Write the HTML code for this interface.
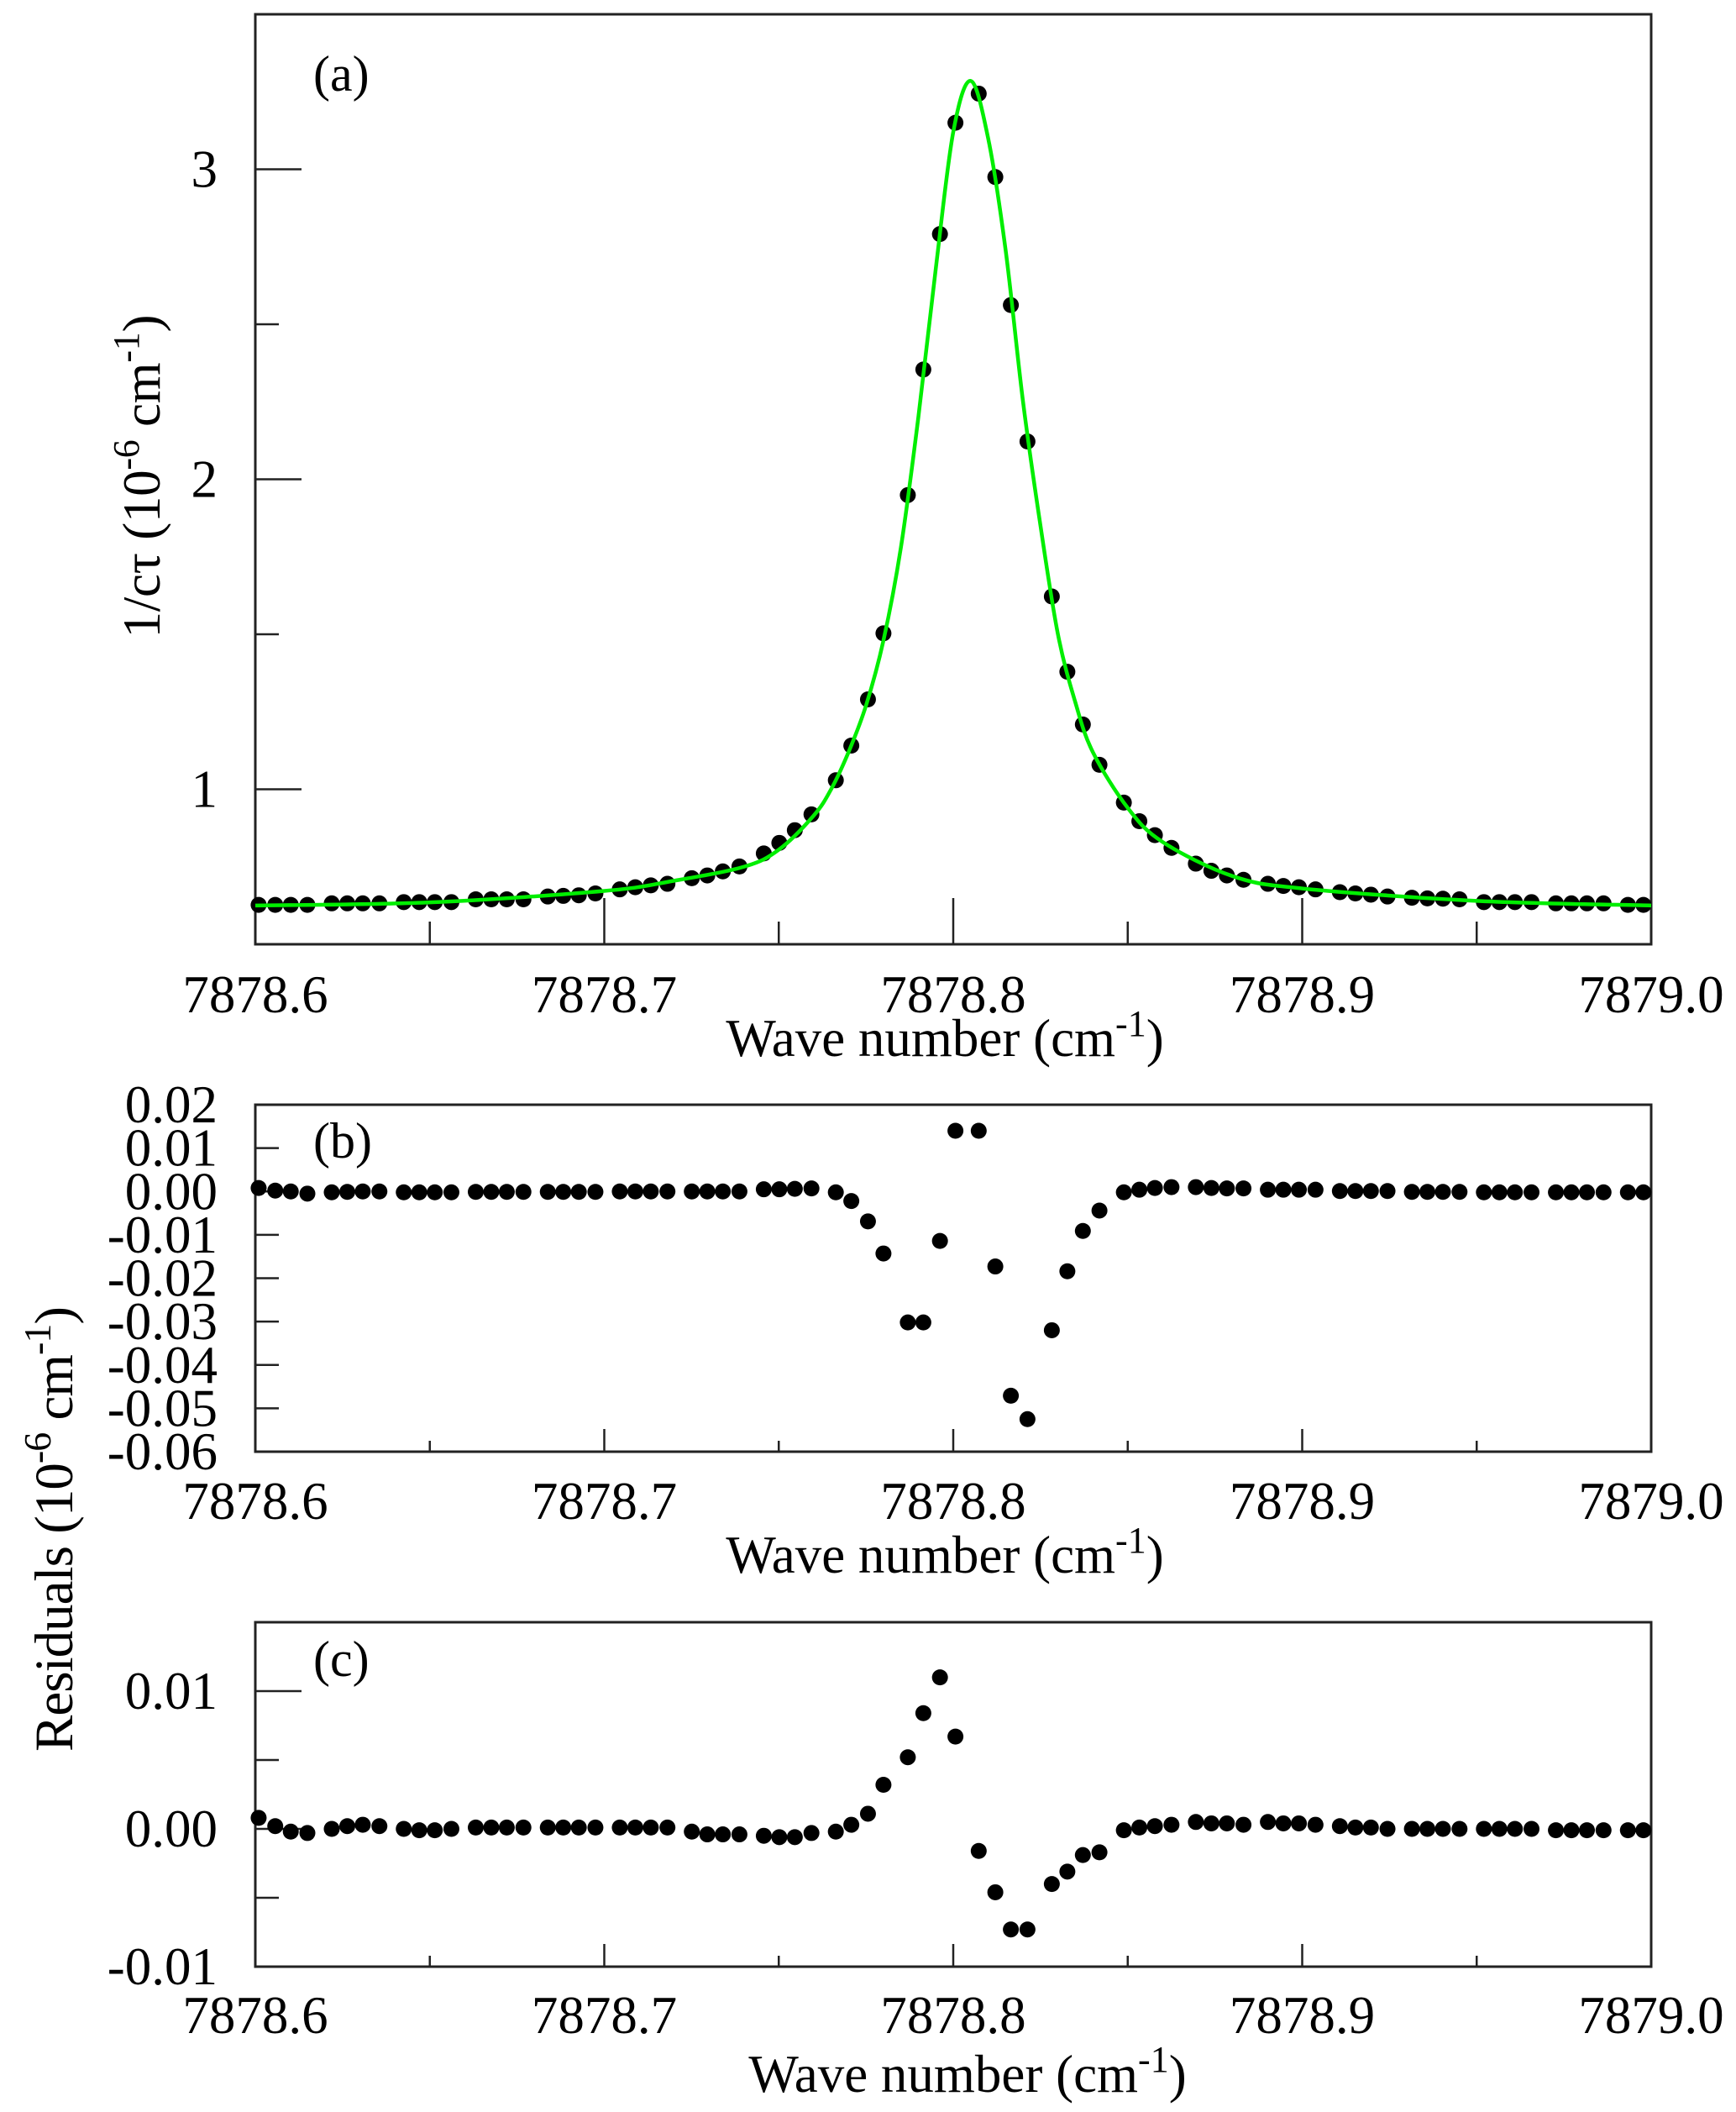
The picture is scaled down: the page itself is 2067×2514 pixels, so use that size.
<!DOCTYPE html>
<html><head><meta charset="utf-8"><style>
html,body{margin:0;padding:0;background:#fff;}
svg{display:block;font-family:"Liberation Serif","Times New Roman",serif;}
</style></head><body>
<svg id="fig" width="2067" height="2514" viewBox="0 0 2067 2514" xmlns="http://www.w3.org/2000/svg"></svg>
<script>
// ---- data ----
const xData = [.60095,.60571,.61016,.61492,.62190,.62635,.63079,.63556,.64254,.64698,.65143,.65619,.66317,.66762,.67206,.67683,.68381,.68825,.69270,.69746,.70444,.70889,.71333,.71810,.72508,.72952,.73397,.73873,.74571,.75016,.75460,.75937,.76635,.77079,.77556,.78000,.78698,.79143,.79619,.80063,.80730,.81206,.81651,.82127,.82825,.83270,.83714,.84190,.84889,.85333,.85778,.86254,.86952,.87397,.87841,.88317,.89016,.89460,.89905,.90381,.91079,.91524,.91968,.92444,.93143,.93587,.94032,.94508,.95206,.95651,.96095,.96571,.97270,.97714,.98159,.98635,.99333,.99778];
const spectrumY = [.627,.627,.627,.627,.632,.632,.632,.632,.636,.636,.636,.636,.645,.645,.645,.645,.654,.656,.658,.664,.677,.684,.690,.695,.713,.722,.735,.751,.793,.827,.868,.919,1.029,1.141,1.290,1.503,1.949,2.354,2.791,3.150,3.244,2.975,2.562,2.122,1.622,1.379,1.209,1.079,.957,.897,.852,.811,.760,.737,.722,.708,.695,.688,.684,.677,.668,.664,.660,.654,.650,.648,.647,.645,.636,.636,.636,.636,.632,.632,.632,.632,.627,.627];
const fitX = [.600,.650,.700,.720,.740,.750,.760,.765,.770,.775,.780,.785,.790,.795,.800,.805,.810,.815,.820,.825,.830,.835,.840,.850,.860,.880,.900,.950,1.000];
const fitY = [.625,.635,.672,.705,.75,.805,.915,1.00,1.12,1.27,1.48,1.78,2.20,2.68,3.12,3.285,3.10,2.74,2.25,1.85,1.50,1.28,1.12,.94,.83,.72,.68,.64,.625];
const residB = [.0008,.0002,0,-.0005,-.0002,-.0001,0,0,-.0002,-.0002,-.0002,-.0002,-.0001,-.0001,-.0001,-.0001,-.0001,-.0001,-.0001,-.0001,0,0,0,0,0,0,0,0,.0005,.0005,.0006,.0007,-.0002,-.0022,-.0069,-.0143,-.0302,-.0302,-.0114,.0140,.0140,-.0173,-.0471,-.0525,-.0320,-.0184,-.0091,-.0044,-.0002,.0004,.0008,.0010,.0010,.0008,.0007,.0007,.0004,.0004,.0004,.0004,.0001,.0001,.0001,.0001,-.0001,-.0001,-.0001,-.0001,-.0002,-.0002,-.0002,-.0002,-.0002,-.0002,-.0002,-.0002,-.0002,-.0002];
const residC = [.0008,.0002,-.0002,-.0003,0,.0002,.0003,.0002,0,-.0001,-.0001,0,.0001,.0001,.0001,.0001,.0001,.0001,.0001,.0001,.0001,.0001,.0001,.0001,-.0002,-.0004,-.0004,-.0004,-.0005,-.0006,-.0006,-.0003,-.0002,.0003,.0011,.0032,.0052,.0084,.0110,.0067,-.0016,-.0046,-.0073,-.0073,-.0040,-.0031,-.0019,-.0017,-.0001,.0001,.0002,.0003,.0005,.0004,.0004,.0003,.0005,.0004,.0004,.0003,.0002,.0001,.0001,0,0,0,0,0,0,0,0,0,-.0001,-.0001,-.0001,-.0001,-.0001,-.0001];
const xTickLabels = ["7878.6","7878.7","7878.8","7878.9","7879.0"];
const xTickValues = [.6,.7,.8,.9,1.0];
const xMinorValues = [.65,.75,.85,.95];
const aTickValues = [1,2,3];
const aTickLabels = ["1","2","3"];
const aMinorValues = [1.5,2.5];
const bTickValues = [.02,.01,0,-.01,-.02,-.03,-.04,-.05,-.06];
const bTickLabels = ["0.02","0.01","0.00","-0.01","-0.02","-0.03","-0.04","-0.05","-0.06"];
const cTickValues = [.01,0,-.01];
const cTickLabels = ["0.01","0.00","-0.01"];
const cMinorValues = [.005,-.005];

const NS="http://www.w3.org/2000/svg";
const svg=document.getElementById('fig');
function mk(tag,attrs,parent){const e=document.createElementNS(NS,tag);for(const k in attrs)e.setAttribute(k,attrs[k]);(parent||svg).appendChild(e);return e;}

const L=304,R=1966;
const panels=[
 {id:'a',top:17,bot:1124,ymin:.5,ymax:3.5,tickLab:1205,title:1257,tx:1125,tickV:aTickValues,tickL:aTickLabels,minor:aMinorValues,yMaj:55,yMin:28,xMaj:55,xMin:27,labY:108},
 {id:'b',top:1315,bot:1728,ymin:-.06,ymax:.02,tickLab:1808,title:1872,tx:1125,tickV:bTickValues,tickL:bTickLabels,minor:[],yMaj:28,yMin:28,xMaj:27,xMin:13,labY:1378},
 {id:'c',top:1931,bot:2341,ymin:-.01,ymax:.015,tickLab:2420,title:2490,tx:1152,tickV:cTickValues,tickL:cTickLabels,minor:cMinorValues,yMaj:55,yMin:28,xMaj:27,xMin:13,labY:1995}
];
panels.forEach(p=>{
 const g=mk('g',{});
 
 
 const X=v=>L+(v-.6)/.4*(R-L);
 const Y=v=>p.bot-(v-p.ymin)/(p.ymax-p.ymin)*(p.bot-p.top);
 p.X=X;p.Y=Y;p.g=g;
 const fr=mk('rect',{x:L,y:p.top,width:R-L,height:p.bot-p.top,fill:'none',stroke:'#222','stroke-width':3},g);
 
 
 xTickValues.forEach((v,i)=>{
  if(i>0&&i<4){const t=mk('line',{x1:X(v),x2:X(v),y1:p.bot,y2:p.bot-p.xMaj,stroke:'#222','stroke-width':2.5},g);
  
  }
  const tl=mk('text',{x:X(v),y:p.tickLab,'font-size':63,'text-anchor':'middle',fill:'#000'},g);
  tl.textContent=xTickLabels[i];
  
  
 });
 xMinorValues.forEach(v=>{const t=mk('line',{x1:X(v),x2:X(v),y1:p.bot,y2:p.bot-p.xMin,stroke:'#222','stroke-width':2.5},g);
  
  });
 p.tickV.forEach((v,i)=>{
  if(v<p.ymax-1e-9&&v>p.ymin+1e-9){const t=mk('line',{x1:L,x2:L+p.yMaj,y1:Y(v),y2:Y(v),stroke:'#222','stroke-width':2.5},g);
  
  }
  const tl=mk('text',{x:259,y:Y(v)+21,'font-size':63,'text-anchor':'end',fill:'#000'},g);
  tl.textContent=p.tickL[i];
  
  
 });
 p.minor.forEach(v=>{const t=mk('line',{x1:L,x2:L+p.yMin,y1:Y(v),y2:Y(v),stroke:'#222','stroke-width':2.5},g);
  
  });
 const xt=mk('text',{x:p.tx,y:p.title,'font-size':63,'text-anchor':'middle',fill:'#000'},g);
 xt.innerHTML='Wave number (cm<tspan dy="-24" font-size="44">-1</tspan><tspan dy="24">)</tspan>';
 
 
 const pl=mk('text',{x:373,y:p.labY,'font-size':60,fill:'#000'},g);
 pl.textContent='('+p.id+')';
 
 
});

// fit curve (panel a) - Catmull-Rom through fit points
(function(){
 const p=panels[0];const pts=fitX.map((x,i)=>[p.X(x),p.Y(fitY[i])]);
 let d='M'+pts[0][0]+','+pts[0][1];
 for(let i=0;i<pts.length-1;i++){
  const p0=pts[Math.max(0,i-1)],p1=pts[i],p2=pts[i+1],p3=pts[Math.min(pts.length-1,i+2)];
  const c1=[p1[0]+(p2[0]-p0[0])/6,p1[1]+(p2[1]-p0[1])/6],c2=[p2[0]-(p3[0]-p1[0])/6,p2[1]-(p3[1]-p1[1])/6];
  d+=' C'+c1[0]+','+c1[1]+' '+c2[0]+','+c2[1]+' '+p2[0]+','+p2[1];
 }
 // dots first then line on top
 xData.forEach((x,i)=>{const c=mk('circle',{cx:p.X(x),cy:p.Y(spectrumY[i]),r:9.5,fill:'#000'},p.g);
  
  });
 const path=mk('path',{d:d,fill:'none',stroke:'#00ee00','stroke-width':4.5},p.g);
 
 
})();
[[1,residB],[2,residC]].forEach(([k,arr])=>{const p=panels[k];
 xData.forEach((x,i)=>{const c=mk('circle',{cx:p.X(x),cy:p.Y(arr[i]),r:9.5,fill:'#000'},p.g);
  
  });
});

// y titles
const ya=mk('text',{x:0,y:0,'font-size':63,'text-anchor':'middle',fill:'#000',transform:'translate(190,567) rotate(-90)',textLength:385,lengthAdjust:'spacing'});
ya.innerHTML='1/c&#964; (10<tspan dy="-25" font-size="44">-6</tspan><tspan dy="25"> cm</tspan><tspan dy="-25" font-size="44">-1</tspan><tspan dy="25">)</tspan>';


const yr=mk('text',{x:0,y:0,'font-size':65,'text-anchor':'middle',fill:'#000',transform:'translate(86,1820) rotate(-90)',textLength:530,lengthAdjust:'spacing'});
yr.innerHTML='Residuals (10<tspan dy="-26" font-size="46">-6</tspan><tspan dy="26"> cm</tspan><tspan dy="-26" font-size="46">-1</tspan><tspan dy="26">)</tspan>';


</script>
</body></html>
